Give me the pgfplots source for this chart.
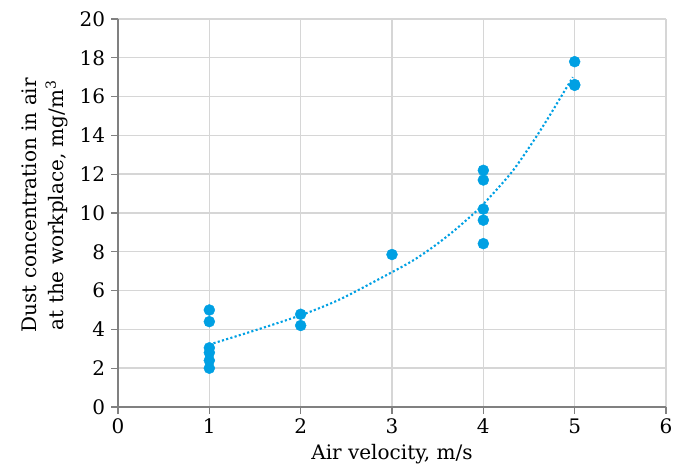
\documentclass[border=0pt]{standalone}
\usepackage{fontspec}
\setmainfont{DejaVu Serif}
\usepackage{pgfplots}
\pgfplotsset{compat=1.18}
\usetikzlibrary{calc}
\definecolor{dotblue}{RGB}{0,160,227}
\definecolor{axisgray}{RGB}{128,128,128}
\definecolor{gridgray}{RGB}{214,214,214}

\begin{document}
\fontsize{20}{24}\selectfont
\begin{tikzpicture}
\begin{axis}[
    scale only axis,
    width=548pt, height=388pt,
    xmin=0, xmax=6, ymin=0, ymax=20,
    xtick={0,1,...,6},
    ytick={0,2,...,20},
    axis x line=bottom, axis y line=left,
    axis line style={axisgray, line width=1.8pt, -},
    tick style={axisgray, line width=1.3pt},
    tick align=outside,
    major tick length=7pt,
    grid=major,
    grid style={gridgray, line width=1.4pt},
    /pgf/number format/assume math mode=true,
    ticklabel style={font=\fontsize{20}{24}\selectfont},
    xticklabel style={yshift=2pt},
    yticklabel style={xshift=1pt},
    xlabel={Air velocity, m/s},
    xlabel style={at={(axis description cs:0.5,0)}, anchor=north, inner sep=0pt, yshift=-37pt},
    ylabel={Dust concentration in air\\at the workplace, mg/m\textsuperscript{3}},
    ylabel style={align=center, at={(axis description cs:0,0.52)}, anchor=south, inner sep=0pt, yshift=50pt},
    label style={font=\fontsize{20}{27}\selectfont},
    clip=false,
]

% trend line, points
\addplot[dotblue, line width=2.1pt, dash pattern=on 2.1pt off 2.3pt, smooth] coordinates {
    (1,3.22)(1.48,3.92)(2,4.73)(2.43,5.55)(2.98,6.9)(3.233,7.56)(3.45,8.25)
    (3.67,9.05)(3.89,9.95)(4.0,10.45)(4.31,12.1)(4.547,13.7)(4.71,14.9)
    (4.858,16.05)(4.98,17.0)
};

\addplot[only marks, mark=*, mark size=5.5pt, mark options={fill=dotblue, draw=dotblue}] coordinates {
    (1,5.0)(1,4.4)(1,3.05)(1,2.8)(1,2.4)(1,2.0)
    (2,4.78)(2,4.2)
    (3,7.86)
    (4,12.2)(4,11.7)(4,10.2)(4,9.63)(4,8.42)
    (5,17.8)(5,16.62)(5,16.58)
};
\end{axis}
\pgfresetboundingbox
\useasboundingbox ($(current axis.south west)+(-118pt,-60pt)$) rectangle ($(current axis.north east)+(7pt,19pt)$);
\end{tikzpicture}
\end{document}
